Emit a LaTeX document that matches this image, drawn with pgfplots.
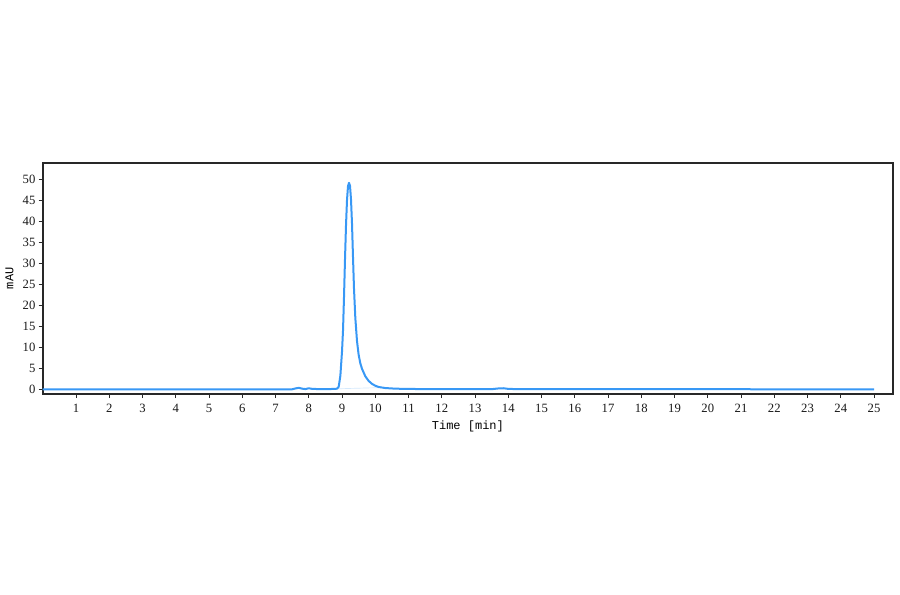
\documentclass[border=0pt]{standalone}
\usepackage{fontspec}
\setmainfont{Liberation Serif}
\newfontfamily\labelfont{Liberation Mono}
\usepackage{pgfplots}
\pgfplotsset{compat=1.18}
\definecolor{trace}{RGB}{56,152,245}
\definecolor{frame}{RGB}{40,40,40}
\begin{document}
\begin{tikzpicture}
\useasboundingbox[fill=white] (0,0) rectangle (675pt,445.5pt);
\begin{axis}[
  at={(32.06pt,150pt)}, anchor=south west,
  scale only axis, width=637.7pt, height=173.5pt,
  xmin=0, xmax=25.57, ymin=-1.12, ymax=53.9,
  xtick={1,2,...,25}, ytick={0,5,...,50},
  tick align=outside, major tick length=3pt,
  xtick pos=bottom, ytick pos=left,
  axis line style={frame, line width=1.4pt},
  every tick/.style={frame, line width=0.6pt},
  tick label style={font=\fontsize{9.5}{11}\selectfont, text=black!90},
  /pgf/number format/assume math mode=true,
  xticklabel style={yshift=-1pt},
  yticklabel style={xshift=1pt},
  xlabel={\labelfont\fontsize{9}{11}\selectfont Time [min]},
  ylabel={\labelfont\fontsize{9}{11}\selectfont mAU},
  xlabel style={yshift=1pt},
  ylabel style={yshift=0pt},
]
  \addplot[trace!60, densely dotted, line width=0.5pt] coordinates {(8.87,0.12) (10.15,0.4)};
  \addplot[trace, line width=1.5pt, line join=round] coordinates {
    (0,0) (7.5,0) (7.6,0.2) (7.7,0.35) (7.8,0.15) (7.9,0.05) (8.0,0.25)
    (8.1,0.1) (8.3,0.05) (8.6,0.05) (8.8,0.1) (8.85,0.15) (8.9,0.6)
    (8.95,3.2) (9.0,9) (9.03,14) (9.06,22) (9.09,31) (9.12,39) (9.15,45)
    (9.18,48.3) (9.21,49.1) (9.24,48.4) (9.27,45.2) (9.30,39.5) (9.33,31.5)
    (9.36,24) (9.40,17) (9.45,11.5) (9.5,8.2) (9.55,6.2) (9.6,4.9)
    (9.7,3.1) (9.8,2.0) (9.9,1.3) (10.0,0.85) (10.1,0.55) (10.3,0.3)
    (10.6,0.15) (11,0.08) (12,0.03) (13.5,0.03) (13.7,0.2) (13.85,0.25)
    (14.0,0.1) (14.3,0.03) (25,0)
  };
\end{axis}
\end{tikzpicture}
\end{document}
